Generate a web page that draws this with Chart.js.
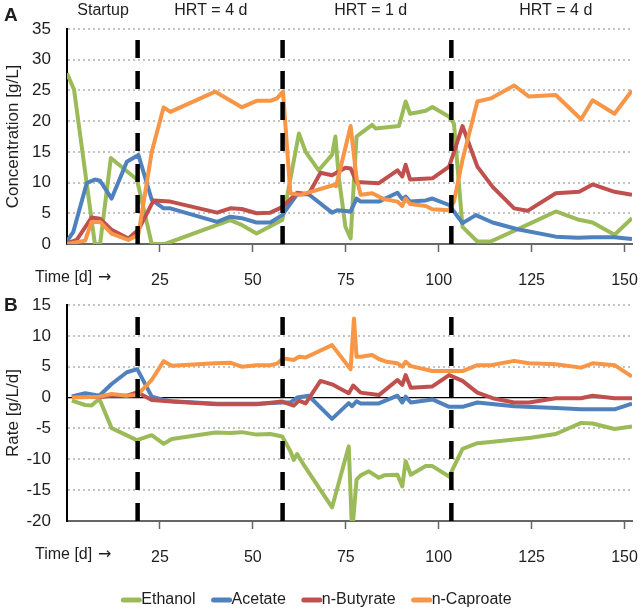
<!DOCTYPE html>
<html>
<head>
<meta charset="utf-8">
<script src="https://cdn.jsdelivr.net/npm/chart.js@4.4.1/dist/chart.umd.min.js"></script>
<style>
  body { margin: 0; background: #fff; }
  #wrap { position: relative; width: 640px; height: 611px; }
  #chartA { position: absolute; left: 0; top: 0; }
  #chartB { position: absolute; left: 0; top: 290px; }
</style>
</head>
<body>
<div id="wrap">
  <canvas id="chartA" width="640" height="290"></canvas>
  <canvas id="chartB" width="640" height="321"></canvas>
</div>
<script>
// ===== data (day, value) =====
const seriesNames = ['Ethanol', 'Acetate', 'n-Butyrate', 'n-Caproate'];
const xTicks = [25, 50, 75, 100, 125, 150];
const phaseBounds = [19, 58, 103.4];
const phaseLabels = ['Startup', 'HRT = 4 d', 'HRT = 1 d', 'HRT = 4 d'];
const phaseLabelDays = [9.7, 38.7, 81.7, 131.5];

// Panel A - concentration [g/L]
const ethanolConc = [[0,27.8],[1.9,25.1],[7.5,0],[8.9,0],[11.8,14.0],[18.8,10.5],[22.8,0],[26.4,0],[43.9,3.9],[47,3.1],[51,1.7],[57.9,3.9],[59.2,7.7],[62.4,18.0],[64.2,15.0],[67.7,12.0],[71.3,14.5],[72.2,17.5],[73.1,11.0],[74.9,2.8],[76.3,0.9],[77.9,17.5],[79,18.0],[82.1,19.4],[83,18.8],[89.3,19.2],[91.1,23.2],[92.3,21.2],[96.5,21.7],[98.3,22.3],[102.8,20.7],[104.1,19.6],[106.4,2.8],[110.4,0.4],[114,0.4],[124.8,3.4],[131.5,5.3],[137.4,4.0],[141.4,3.5],[147.3,1.5],[152,4.2]];
const acetateConc = [[0,0.4],[1.7,2.0],[5.3,9.9],[7.5,10.5],[8.9,10.3],[12,7.4],[16.1,13.4],[19.2,14.5],[22.8,7.2],[26,5.8],[27.8,5.8],[40.4,3.6],[43.9,4.45],[47,4.2],[51,3.5],[54.7,3.5],[57.9,4.7],[61.9,8.1],[65,8.1],[71.3,5.1],[72.7,5.5],[76.3,5.3],[77.9,7.4],[79,6.9],[83.9,6.9],[88.9,8.35],[90.2,7.3],[91.1,7.7],[92.3,6.9],[96.5,7.1],[98.3,7.4],[102.8,6.35],[106.4,3.4],[110,4.7],[114.5,3.5],[121.2,2.4],[131.5,1.2],[137.4,1.0],[141.4,1.1],[147.3,1.1],[152,0.8]];
const butyrateConc = [[0,0.1],[2.6,0.65],[6.6,4.3],[8.9,4.1],[12,2.3],[16.5,0.9],[19.2,2.3],[23.3,7.1],[27.8,6.9],[40.4,5.1],[43.9,5.8],[47,5.7],[51,5.0],[54.7,5.1],[57.9,6.0],[61.9,8.35],[65,8.1],[68.2,11.6],[71.3,11.2],[74.9,12.4],[76.3,12.3],[77.9,10.1],[83.9,9.9],[88.9,12.0],[90.2,11.0],[91.1,12.9],[92.3,10.5],[98.3,10.7],[102.8,12.6],[106.4,19.2],[110.4,12.6],[114.5,9.3],[120.3,5.8],[123.9,5.4],[131.5,8.25],[137.8,8.5],[141.4,9.7],[147.3,8.5],[152,8.0]];
const caproateConc = [[0,0],[4.9,0.55],[6.6,3.6],[8.9,3.6],[12,1.7],[16.5,0.65],[19.2,1.5],[22.8,15.0],[26,22.25],[27.8,21.5],[39.9,24.8],[43,23.7],[47,22.25],[51,23.3],[54.7,23.3],[56.5,23.7],[58.1,24.8],[60.1,8.25],[62.8,8.0],[71.8,9.6],[72.4,9.4],[76.3,19.2],[77.9,10.7],[79,8.0],[82.1,8.25],[85.3,7.3],[88.9,6.9],[90.2,6.2],[91.1,7.4],[92.3,6.5],[96.5,6.2],[98.3,5.65],[102.8,5.5],[104.1,6.9],[106.4,13.7],[110.4,23.2],[114,23.7],[120.3,25.8],[124.3,24.0],[131.5,24.25],[138.3,20.3],[141.4,23.4],[147.3,21.2],[152,25.0]];

// Panel B - rate [g/L/d]
const ethanolRate = [[1.3,-0.5],[4.9,-1.2],[6.6,-1.3],[8.7,-0.2],[12,-4.95],[18.8,-6.9],[22.8,-6.1],[26,-7.5],[28.2,-6.7],[39.9,-5.65],[43.9,-5.75],[47,-5.6],[51,-6.0],[54.7,-5.9],[57.9,-6.3],[60.1,-8.7],[61,-10.1],[61.9,-9.15],[63.7,-10.9],[71.3,-17.8],[75.8,-7.9],[76.7,-22],[77.9,-13.3],[79,-12.6],[81.2,-11.95],[83.9,-13.0],[85.3,-12.6],[88.9,-12.5],[90.2,-14.4],[91.1,-10.3],[92.5,-12.5],[96.5,-11.1],[98.3,-11.1],[102.8,-12.8],[106.4,-8.3],[110.4,-7.4],[114,-7.2],[120.3,-6.8],[124.8,-6.5],[131.5,-5.9],[138.3,-4.1],[141.4,-4.2],[147.3,-5.1],[152,-4.7]];
const acetateRate = [[1.3,0.2],[4.9,0.7],[8.7,0.3],[12,2.2],[16.1,4.1],[18.9,4.6],[22.8,0.15],[26,-0.4],[28.2,-0.6],[40.4,-1.0],[51,-1.0],[57.9,-0.8],[60.1,-0.8],[61.9,0],[65,0.3],[71.3,-3.45],[75.8,-0.9],[76.7,-1.4],[77.9,-0.6],[79,-0.95],[83.9,-0.95],[88.9,0.3],[90.2,-0.8],[91.1,0.15],[92.5,-0.8],[98.3,-0.3],[102.8,-1.5],[106.4,-1.5],[110.4,-0.8],[120.3,-1.4],[131.5,-1.7],[138.3,-1.9],[147.3,-1.9],[152,-1.0]];
const butyrateRate = [[1.3,0.1],[8.7,0.1],[12,0.3],[16.1,0.3],[18.9,0.85],[22.8,-0.4],[28.2,-0.65],[40.4,-1.1],[51,-1.1],[57.9,-0.65],[61,-1.3],[62.4,-0.5],[64.2,-0.95],[68.2,2.7],[71.3,2.15],[75.8,0.7],[77,1.95],[79,0.8],[83.9,0.4],[88.9,2.85],[90.2,2.05],[91.1,3.65],[92.5,1.6],[98.3,1.8],[102.8,3.65],[106.4,2.7],[110.4,0.8],[114.5,-0.1],[120.3,-0.8],[124.3,-0.8],[131.5,-0.1],[138.3,-0.1],[141.4,0.3],[147.3,-0.1],[152,-0.1]];
const caproateRate = [[1.3,0],[8.7,0.15],[12,0.6],[16.1,0.3],[18.9,0.4],[22.8,2.85],[26,5.9],[28.2,5.15],[39.9,5.55],[43.9,5.65],[47,5.0],[51,5.25],[54.7,5.25],[56.5,5.5],[58.1,6.35],[61,6.1],[62.4,6.6],[64.2,6.5],[71.3,8.5],[76.3,4.6],[77.2,12.8],[77.9,6.6],[79,6.6],[82.1,6.9],[83.9,6.25],[86,5.8],[88.9,5.55],[90.2,5.0],[91.1,5.8],[92.5,5.1],[98.3,4.3],[102.8,4.3],[106.4,4.3],[110.4,5.25],[114,5.25],[120.3,5.95],[124.3,5.55],[131.5,5.4],[138.3,4.85],[141.4,5.55],[147.3,5.25],[152,3.4]];

// ===== styling =====
const seriesColors = ['#9BBB59', '#4F81BD', '#C0504D', '#F79646'];
const TEXT = '#1e1e1e';
const FONT = "'Liberation Sans', Arial, sans-serif";
Chart.defaults.font.family = FONT;
Chart.defaults.color = TEXT;

function toPoints(pairs) {
    return pairs.map(p => ({ x: p[0], y: p[1] }));
}

function buildDatasets(list) {
    return list.map((pairs, i) => ({
        label: seriesNames[i],
        data: toPoints(pairs),
        borderColor: seriesColors[i],
        backgroundColor: seriesColors[i],
        borderWidth: 4,
        borderJoinStyle: 'round',
        pointRadius: 0,
        tension: 0,
        order: list.length - i   // later series on top, like the original
    }));
}

// dashed phase boundaries + captions
const overlayPlugin = {
    id: 'overlay',
    afterDatasetsDraw(chart) {
        const { ctx, chartArea: area, scales: { x } } = chart;
        ctx.save();
        ctx.strokeStyle = '#000';
        ctx.lineWidth = 4.5;
        ctx.setLineDash([18, 13]);
        phaseBounds.forEach(d => {
            const px = x.getPixelForValue(d);
            ctx.beginPath();
            ctx.moveTo(px, area.bottom);
            ctx.lineTo(px, area.top + 11);
            ctx.stroke();
        });
        ctx.restore();
    },
    afterDraw(chart, args, opts) {
        const { ctx, chartArea: area, scales: { x } } = chart;
        ctx.save();
        ctx.fillStyle = TEXT;
        // panel letter
        ctx.font = 'bold 19px ' + FONT;
        ctx.textAlign = 'left';
        ctx.textBaseline = 'alphabetic';
        ctx.fillText(opts.letter, 4, 21);
        // time label next to the x ticks
        ctx.font = '16px ' + FONT;
        ctx.textBaseline = 'middle';
        ctx.fillText('Time [d]', 35, area.bottom + 34);
        ctx.font = "16px 'DejaVu Sans', sans-serif";
        ctx.fillText('\u2192', 98, area.bottom + 34);
        ctx.font = '16px ' + FONT;
        if (opts.phases) {
            ctx.textAlign = 'center';
            ctx.textBaseline = 'alphabetic';
            phaseLabels.forEach((t, i) => {
                ctx.fillText(t, x.getPixelForValue(phaseLabelDays[i]), 15);
            });
        }
        if (opts.legend) {
            const lineW = 19, gap = 17;
            const items = chart.data.datasets.map(ds => ({ label: ds.label, color: ds.borderColor, w: ctx.measureText(ds.label).width }));
            const total = items.reduce((s, it) => s + lineW + it.w, 0) + gap * (items.length - 1);
            let cx = 316 - total / 2;
            const cy = opts.legendY;
            ctx.textAlign = 'left';
            ctx.textBaseline = 'middle';
            items.forEach(it => {
                ctx.strokeStyle = it.color;
                ctx.lineWidth = 5;
                ctx.lineCap = 'round';
                ctx.beginPath();
                ctx.moveTo(cx + 2, cy);
                ctx.lineTo(cx + lineW - 1, cy);
                ctx.stroke();
                ctx.fillStyle = TEXT;
                ctx.fillText(it.label, cx + lineW + 1, cy);
                cx += lineW + it.w + gap;
            });
        }
        ctx.restore();
    }
};

function makeChart(id, series, yMin, yMax, yTitle, padding, overlay) {
    const ctx = document.getElementById(id).getContext('2d');
    return new Chart(ctx, {
        type: 'line',
        data: { datasets: buildDatasets(series) },
        options: {
            responsive: false,
            animation: false,
            layout: { padding: padding },
            plugins: {
                legend: { display: false },
                tooltip: { enabled: false },
                overlay: overlay
            },
            scales: {
                x: {
                    type: 'linear',
                    min: 0,
                    max: 152,
                    afterBuildTicks: s => { s.ticks = xTicks.map(v => ({ value: v })); },
                    afterFit: s => { s.height = 46; s.paddingLeft = 0; s.paddingRight = 0; },
                    ticks: { font: { size: 16 }, color: TEXT, padding: 19, maxRotation: 0, autoSkip: false },
                    grid: { drawOnChartArea: false, drawTicks: true, tickLength: 8, tickColor: '#666', tickWidth: 1.5 },
                    border: { color: '#666', width: 2 }
                },
                y: {
                    min: yMin,
                    max: yMax,
                    afterFit: s => { s.width = 67; s.paddingTop = 0; s.paddingBottom = 0; },
                    ticks: { stepSize: 5, font: { size: 17 }, color: TEXT, padding: 16 },
                    title: { display: true, text: yTitle, font: { size: 17 }, color: TEXT, padding: { top: 3, bottom: 0 } },
                    grid: {
                        drawTicks: false,
                        color: c => c.tick && c.tick.value === 0 ? (yMin === 0 ? 'rgba(0,0,0,0)' : '#000') : '#c3c3c3',
                        lineWidth: c => c.tick && c.tick.value === 0 ? 1.2 : 2
                    },
                    border: {
                        color: '#000',
                        width: 2,
                        dash: c => c.tick && c.tick.value === 0 ? [] : [2, 3]
                    }
                }
            }
        },
        plugins: [overlayPlugin]
    });
}

makeChart('chartA', [ethanolConc, acetateConc, butyrateConc, caproateConc], 0, 35,
    'Concentration [g/L]', { top: 29, right: 8, bottom: 0, left: 0 },
    { letter: 'A', phases: true, legend: false });

makeChart('chartB', [ethanolRate, acetateRate, butyrateRate, caproateRate], -20, 15,
    'Rate [g/L/d]', { top: 15, right: 8, bottom: 44, left: 0 },
    { letter: 'B', phases: false, legend: true, legendY: 310 });
</script>
</body>
</html>
